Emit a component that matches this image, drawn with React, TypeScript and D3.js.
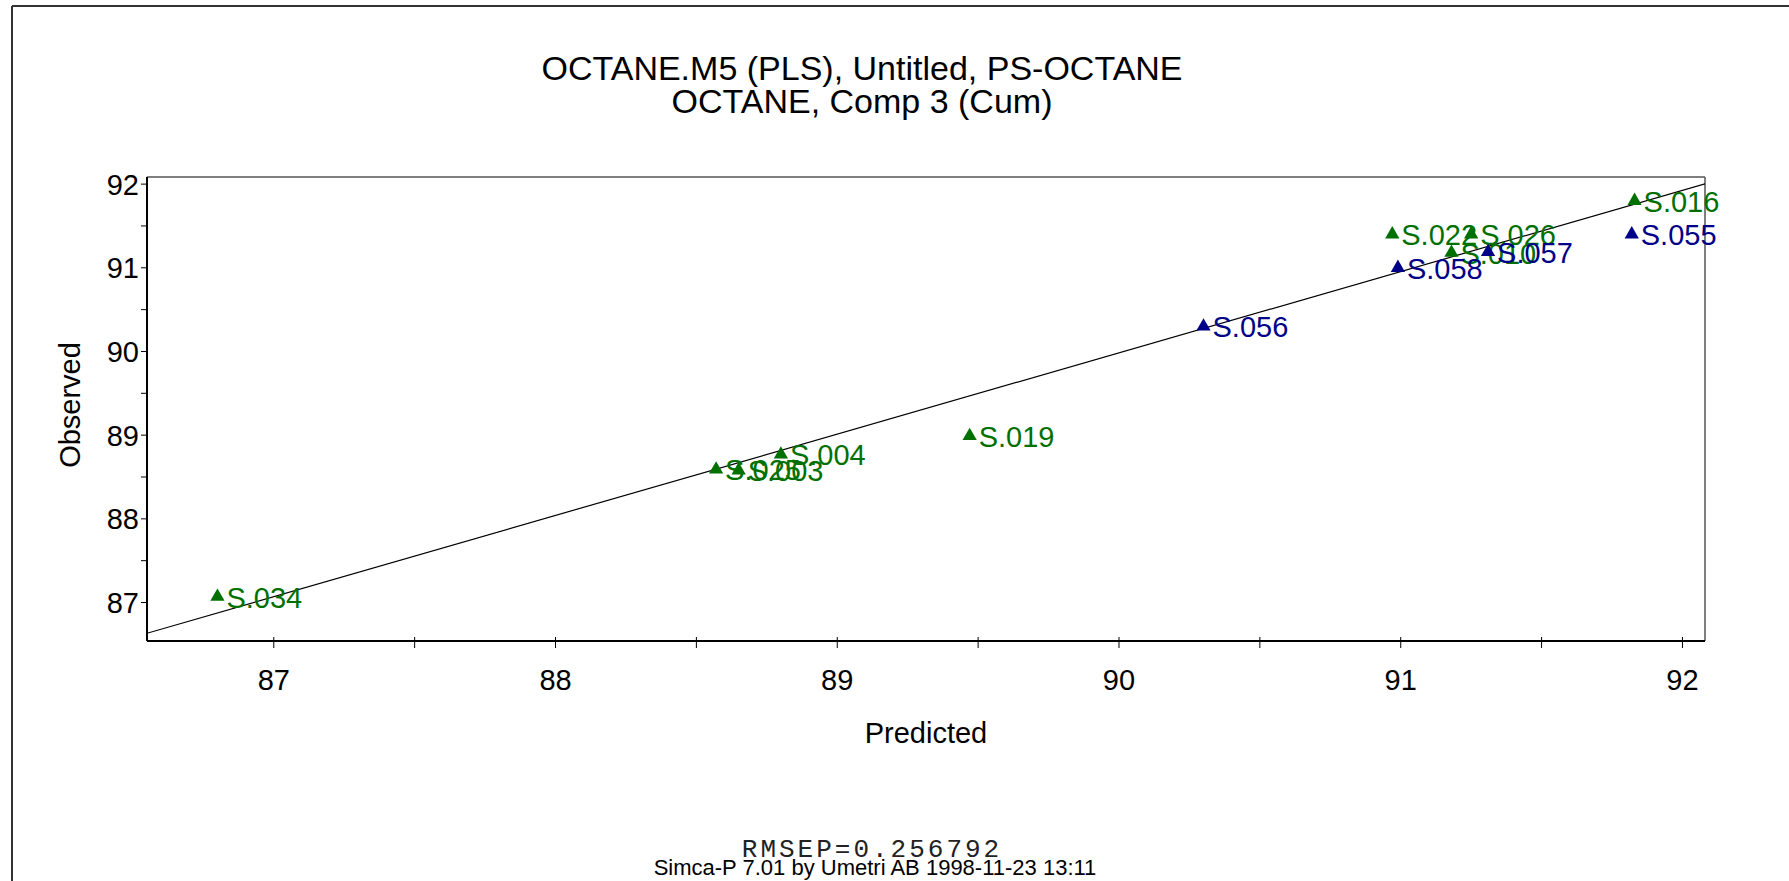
import React from "react";
import * as d3 from "d3";

// Work-set observations (green)
const workNames = ["S.034", "S.025", "S.003", "S.004", "S.019", "S.022", "S.026", "S.010", "S.016"];
const workPredicted = [86.8, 88.57, 88.65, 88.8, 89.47, 90.97, 91.25, 91.18, 91.83];
const workObserved = [87.07, 88.59, 88.58, 88.77, 88.99, 91.4, 91.4, 91.18, 91.8];

// Prediction-set observations (blue)
const predNames = ["S.056", "S.058", "S.057", "S.055"];
const predPredicted = [90.3, 90.99, 91.31, 91.82];
const predObserved = [90.3, 91.0, 91.19, 91.4];

const xTickValues = [87, 88, 89, 90, 91, 92];
const yTickValues = [87, 88, 89, 90, 91, 92];
const xMinorValues = [87.5, 88.5, 89.5, 90.5, 91.5];
const yMinorValues = [87.5, 88.5, 89.5, 90.5, 91.5];

const xDomain = [86.55, 92.08];
const yDomain = [86.54, 92.085];

const titleLines = ["OCTANE.M5 (PLS), Untitled, PS-OCTANE", "OCTANE, Comp 3 (Cum)"];
const xTitle = "Predicted";
const yTitle = "Observed";
const statLine = "RMSEP=0.256792";
const creditLine = "Simca-P 7.01 by Umetri AB 1998-11-23 13:11";

const W = 1789;
const H = 881;
const plot = { left: 147, right: 1705, top: 177, bottom: 641 };
const FONT = "'Liberation Sans', Arial, sans-serif";
const GREEN = "#007000";
const BLUE = "#000088";

type Pt = { name: string; x: number; y: number; color: string };

export default function App() {
  const x = d3.scaleLinear().domain(xDomain).range([plot.left, plot.right]);
  const y = d3.scaleLinear().domain(yDomain).range([plot.bottom, plot.top]);

  const work: Pt[] = workNames.map((n, i) => ({ name: n, x: workPredicted[i], y: workObserved[i], color: GREEN }));
  const pred: Pt[] = predNames.map((n, i) => ({ name: n, x: predPredicted[i], y: predObserved[i], color: BLUE }));
  const all = [...work, ...pred];

  // least-squares fit of observed on predicted
  const mx = d3.mean(all, (d) => d.x) as number;
  const my = d3.mean(all, (d) => d.y) as number;
  const sxy = d3.sum(all, (d) => (d.x - mx) * (d.y - my));
  const sxx = d3.sum(all, (d) => (d.x - mx) ** 2);
  const slope = sxy / sxx;
  const intercept = my - slope * mx;
  const fitLine = d3
    .line<number>()
    .x((v) => x(v))
    .y((v) => y(intercept + slope * v));

  const tri = d3.symbol().type(d3.symbolTriangle).size(88)() as string;

  return (
    <svg
      width={W}
      height={H}
      style={{ position: "absolute", left: 0, top: 0, background: "#fff" }}
      fontFamily={FONT}
    >
      <rect x={0} y={0} width={W} height={H} fill="#fff" />
      {/* outer frame */}
      <line x1={12} y1={6} x2={W} y2={6} stroke="#333" strokeWidth={2} />
      <line x1={12} y1={6} x2={12} y2={H} stroke="#333" strokeWidth={2} />

      {/* titles */}
      {titleLines.map((t, i) => (
        <text key={t} x={862} y={80 + i * 33} textAnchor="middle" fontSize={34} fill="#000">
          {t}
        </text>
      ))}

      <defs>
        <clipPath id="plotClip">
          <rect x={plot.left} y={plot.top} width={plot.right - plot.left} height={plot.bottom - plot.top} />
        </clipPath>
      </defs>

      {/* plot frame */}
      <line x1={plot.left} y1={plot.top} x2={plot.right} y2={plot.top} stroke="#555" strokeWidth={1.5} />
      <line x1={plot.right} y1={plot.top} x2={plot.right} y2={plot.bottom} stroke="#555" strokeWidth={1.5} />

      {/* regression line */}
      <path d={fitLine(xDomain) as string} stroke="#000" strokeWidth={1.2} fill="none" clipPath="url(#plotClip)" />

      {/* axes */}
      <line x1={plot.left} y1={plot.top} x2={plot.left} y2={plot.bottom} stroke="#000" strokeWidth={2} />
      <line x1={plot.left} y1={plot.bottom} x2={plot.right} y2={plot.bottom} stroke="#000" strokeWidth={2} />

      {[...xTickValues, ...xMinorValues].map((v) => (
        <line key={"xt" + v} x1={x(v)} x2={x(v)} y1={plot.bottom - 4} y2={plot.bottom + 7} stroke="#000" strokeWidth={1} />
      ))}
      {xTickValues.map((v) => (
        <text key={"xl" + v} x={x(v)} y={690} textAnchor="middle" fontSize={29} fill="#000">
          {v}
        </text>
      ))}
      {[...yTickValues, ...yMinorValues].map((v) => (
        <line key={"yt" + v} x1={plot.left - 6} x2={plot.left} y1={y(v)} y2={y(v)} stroke="#000" strokeWidth={1} />
      ))}
      {yTickValues.map((v) => (
        <text key={"yl" + v} x={139} y={y(v)} dy="0.36em" textAnchor="end" fontSize={29} fill="#000">
          {v}
        </text>
      ))}

      <text x={(plot.left + plot.right) / 2} y={743} textAnchor="middle" fontSize={29} fill="#000">
        {xTitle}
      </text>
      <text transform={`translate(80, 405) rotate(-90)`} textAnchor="middle" fontSize={29} fill="#000">
        {yTitle}
      </text>

      {/* observations */}
      {all.map((d) => (
        <g key={d.name} transform={`translate(${x(d.x)}, ${y(d.y)})`}>
          <path d={tri} fill={d.color} />
          <text x={9} y={11} fontSize={29} fill={d.color}>
            {d.name}
          </text>
        </g>
      ))}

      {/* footer */}
      <text
        x={872}
        y={857}
        textAnchor="middle"
        fontSize={26}
        letterSpacing={3}
        fontFamily="'Liberation Mono', 'Courier New', monospace"
        fill="#222"
      >
        {statLine}
      </text>
      <text x={875} y={875} textAnchor="middle" fontSize={22} fill="#000">
        {creditLine}
      </text>
    </svg>
  );
}
